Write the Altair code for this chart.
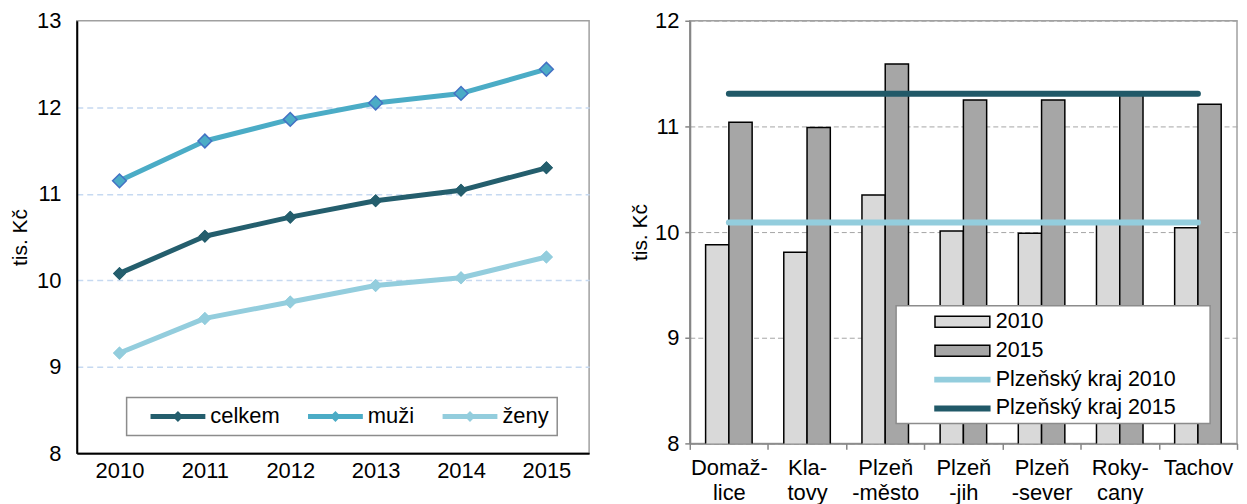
import altair as alt
import pandas as pd

FONT = "Liberation Sans"

# ---------------- left chart data ----------------
years = ["2010", "2011", "2012", "2013", "2014", "2015"]
series_names = ["celkem", "muži", "ženy"]
celkem = [10.08, 10.51, 10.73, 10.92, 11.04, 11.30]
muzi = [11.15, 11.61, 11.86, 12.05, 12.16, 12.44]
zeny = [9.16, 9.56, 9.75, 9.94, 10.03, 10.27]
line_colors = ["#245E6D", "#4BACC6", "#93CDDD"]
left_ticks = [8, 9, 10, 11, 12, 13]

# ---------------- right chart data ----------------
districts = ["Domažlice", "Klatovy", "Plzeň-město", "Plzeň-jih", "Plzeň-sever", "Rokycany", "Tachov"]
district_labels = [["Domaž-", "lice"], ["Kla-", "tovy"], ["Plzeň", "-město"], ["Plzeň", "-jih"],
                   ["Plzeň", "-sever"], ["Roky-", "cany"], ["Tachov"]]
bar_names = ["2010", "2015"]
v2010 = [9.88, 9.81, 10.35, 10.01, 9.99, 10.08, 10.04]
v2015 = [11.04, 10.99, 11.59, 11.25, 11.25, 11.32, 11.21]
bar_colors = ["#D9D9D9", "#A6A6A6"]
kraj_names = ["Plzeňský kraj 2010", "Plzeňský kraj 2015"]
kraj_values = [10.09, 11.31]
kraj_colors = ["#93CDDD", "#215968"]
right_ticks = [8, 9, 10, 11, 12]

# ---------------- left chart ----------------
df_left = pd.DataFrame(
    [{"rok": y, "serie": s, "hodnota": v}
     for s, vals in zip(series_names, [celkem, muzi, zeny])
     for y, v in zip(years, vals)]
)

PATH_LEG_L = ("M-1,-0.23L1.23,-0.23L1.5,-0.5L1.77,-0.23L4,-0.23L4,0.23"
              "L1.77,0.23L1.5,0.5L1.23,0.23L-1,0.23Z")

cscale = alt.Scale(domain=series_names, range=line_colors)

legend_l = alt.Legend(title=" ", titleOrient="right", titlePadding=0, titleFontSize=22,
                      orient="none", legendX=50, legendY=378,
                      direction="horizontal", symbolType=PATH_LEG_L,
                      symbolSize=484, symbolStrokeWidth=0,
                      labelFontSize=22, labelOffset=38, symbolOffset=16,
                      columnPadding=12, padding=8, labelLimit=300,
                      fillColor="white", strokeColor="#8C8C8C")

xl = alt.X("rok:N", sort=years, scale=alt.Scale(padding=0.5),
           axis=alt.Axis(title=None, labelAngle=0, ticks=False, domainColor="black",
                         domainWidth=2, labelFontSize=22, labelPadding=7))
yl = alt.Y("hodnota:Q", scale=alt.Scale(domain=[8, 13], nice=False, zero=False),
           axis=alt.Axis(title="tis. Kč", values=left_ticks, grid=True,
                         gridColor={"condition": {"test": "datum.value == 8 || datum.value == 13",
                                                  "value": "transparent"},
                                    "value": "#C6D9F1"},
                         gridDash=[6, 4], gridWidth=1.5, ticks=False, domainColor="black",
                         domainWidth=2, labelFontSize=22, labelPadding=16,
                         titleFontSize=21, titleFontWeight="normal", titlePadding=6))

base_l = alt.Chart(df_left)
lines_l = base_l.mark_line(strokeWidth=5, strokeJoin="round").encode(
    x=xl, y=yl, color=alt.Color("serie:N", scale=cscale, sort=series_names, legend=legend_l))
pts_l = base_l.mark_point(shape="diamond", filled=True, size=170, opacity=1, strokeWidth=0).encode(
    x=xl, y=yl,
    color=alt.Color("serie:N", scale=cscale, sort=series_names, legend=legend_l))
muzi_pts = base_l.transform_filter(alt.datum.serie == "muži").mark_point(
    shape="diamond", filled=True, size=190, fill="#4BACC6", stroke="#4472C4",
    strokeWidth=1.5, opacity=1).encode(x=xl, y=yl)

left = alt.layer(pts_l, lines_l, pts_l, muzi_pts).properties(width=514, height=434)

# ---------------- right chart ----------------
rows_b = []
for d, a, b in zip(districts, v2010, v2015):
    rows_b.append({"okres": d, "s": bar_names[0], "hodnota": a})
    rows_b.append({"okres": d, "s": bar_names[1], "hodnota": b})
df_bars = pd.DataFrame(rows_b)

df_kraj = pd.DataFrame([{"okres": d, "s": k, "hodnota": v}
                        for k, v in zip(kraj_names, kraj_values) for d in districts])

label_expr = "datum.value"
for d, lines in reversed(list(zip(districts, district_labels))):
    arr = "[" + ",".join("'" + l + "'" for l in lines) + "]"
    label_expr = "datum.value == '" + d + "' ? " + arr + " : (" + label_expr + ")"

PATH_BAR = "M-1,-0.5L4,-0.5L4,0.5L-1,0.5Z"
PATH_LINE = "M-1,-0.2L4,-0.2L4,0.2L-1,0.2Z"
sym_expr = ("(datum.value == '" + bar_names[0] + "' || datum.value == '" + bar_names[1] + "') ? '"
            + PATH_BAR + "' : '" + PATH_LINE + "'")
fill_expr = ("datum.value == '" + bar_names[0] + "' ? '" + bar_colors[0] + "' : "
             "datum.value == '" + bar_names[1] + "' ? '" + bar_colors[1] + "' : "
             "datum.value == '" + kraj_names[0] + "' ? '" + kraj_colors[0] + "' : '" + kraj_colors[1] + "'")

stroke_scale = alt.Scale(domain=bar_names + kraj_names,
                         range=["black", "black"] + kraj_colors)

xr = alt.X("okres:N", sort=districts, scale=alt.Scale(paddingInner=0, paddingOuter=0),
           axis=alt.Axis(title=None, labelAngle=0, labelExpr=label_expr, tickBand="extent",
                         ticks=True, tickSize=6, tickColor="#868686", tickWidth=1.5,
                         domainColor="#868686", domainWidth=1.5, labelFontSize=22,
                         labelPadding=8, labelLineHeight=25, grid=False))
yr = alt.Y("hodnota:Q", scale=alt.Scale(domain=[8, 12], nice=False, zero=False),
           axis=alt.Axis(title="tis. Kč", values=right_ticks, grid=True, gridColor="#A6A6A6",
                         gridDash=[5, 3], gridWidth=1, ticks=True, tickSize=5,
                         tickColor="#868686", tickWidth=1.5, domainColor="#868686",
                         domainWidth=2, labelFontSize=22, labelPadding=6,
                         titleFontSize=21, titleFontWeight="normal", titlePadding=4))

legend_r = alt.Legend(title=" ", titleOrient="right", titlePadding=31, titleFontSize=22,
                      orient="none", legendX=822, legendY=286,
                      direction="vertical",
                      symbolType={"expr": sym_expr},
                      symbolFillColor={"expr": fill_expr},
                      symbolSize=484, symbolStrokeWidth=1.5,
                      labelFontSize=21.5, labelOffset=38, symbolOffset=34, labelLimit=300,
                      rowPadding=6, padding=4,
                      fillColor="white", strokeColor="#8C8C8C")

bars = alt.Chart(df_bars).mark_bar(strokeWidth=1.5, clip=True).encode(
    x=xr,
    xOffset=alt.XOffset("s:N", sort=bar_names, scale=alt.Scale(paddingInner=0, paddingOuter=0.68)),
    y=yr,
    fill=alt.Fill("s:N", scale=alt.Scale(domain=bar_names, range=bar_colors), legend=None),
    stroke=alt.Stroke("s:N", scale=stroke_scale, legend=legend_r))
kraj = alt.Chart(df_kraj).mark_line(strokeWidth=6, strokeCap="round").encode(
    x=xr, y=yr, stroke=alt.Stroke("s:N", scale=stroke_scale, legend=legend_r))

right = alt.layer(bars, kraj).properties(width=549, height=424)

chart = alt.hconcat(left, right, spacing=38).properties(padding=0).configure_view(
    stroke="#A0A0A0", strokeWidth=1.5
).configure_axis(
    labelFont=FONT, titleFont=FONT, labelColor="black", titleColor="black"
).configure_legend(
    labelFont=FONT, titleFont=FONT, labelColor="black", strokeWidth=1.5
)

chart.save("out.html", embed_options={"renderer": "svg", "actions": False})
